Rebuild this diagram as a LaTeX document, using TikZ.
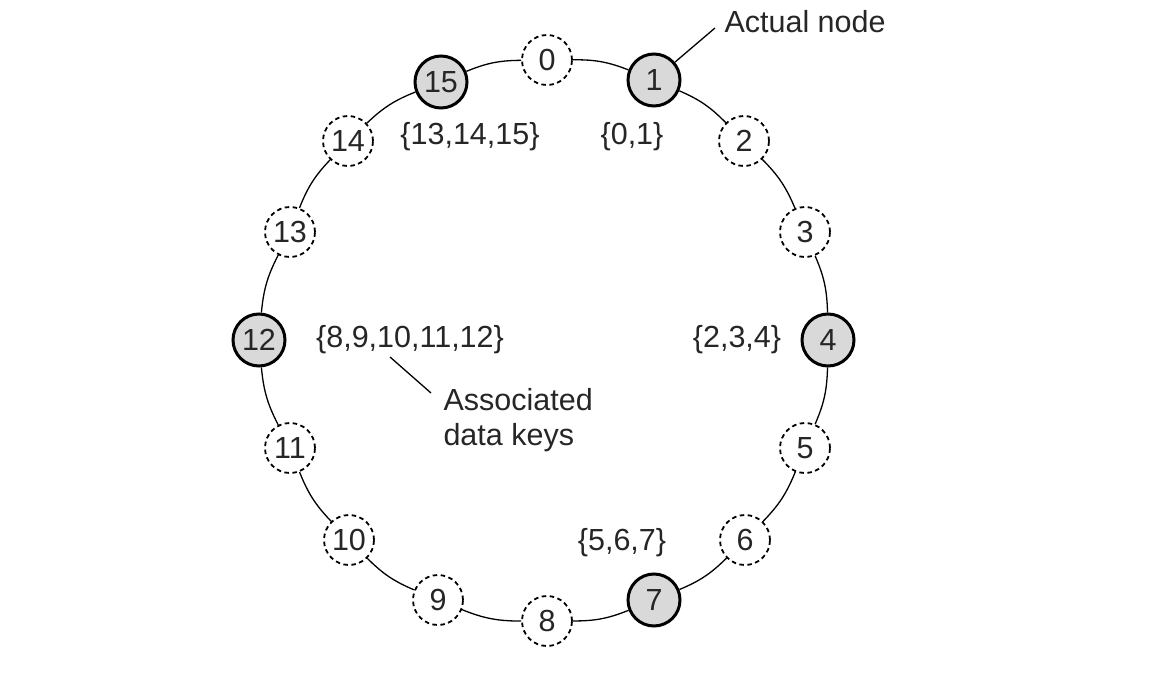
\documentclass[tikz,border=0pt]{standalone}
\usepackage{fontspec}
\setmainfont{Liberation Sans}
\begin{document}
\begin{tikzpicture}[x=1pt,y=-1pt,
  every node/.style={font=\fontsize{30.5}{35}\selectfont, text=black!85},
  virt/.style={circle, draw=black, line width=1.8pt, dash pattern=on 4.5pt off 3.5pt, fill=white, minimum size=50pt, inner sep=0pt},
  real/.style={circle, draw=black, line width=3pt, fill=black!15, minimum size=52pt, inner sep=0pt},
  ring/.style={line width=1.3pt, bend left=11},
  lead/.style={line width=1.3pt},
  keys/.style={anchor=center}]
\useasboundingbox (0,0) rectangle (1152,682);
\node[virt] (n0) at (547,60) {0};
\node[real] (n1) at (654,80) {1};
\node[virt] (n2) at (744,141) {2};
\node[virt] (n3) at (805,232) {3};
\node[real] (n4) at (828,340) {4};
\node[virt] (n5) at (805,448) {5};
\node[virt] (n6) at (745,540) {6};
\node[real] (n7) at (654,600) {7};
\node[virt] (n8) at (547,621) {8};
\node[virt] (n9) at (438,600) {9};
\node[virt] (n10) at (349,540) {10};
\node[virt] (n11) at (290,448) {11};
\node[real] (n12) at (259,340) {12};
\node[virt] (n13) at (290,232) {13};
\node[virt] (n14) at (348,141) {14};
\node[real] (n15) at (441,82) {15};
\foreach \a/\b in {0/1,1/2,2/3,3/4,4/5,5/6,6/7,7/8,8/9,9/10,10/11,11/12,12/13,13/14,14/15,15/0}
  \draw[ring] (n\a) to (n\b);
\node[keys] (k15) at (470,137) {\{13,14,15\}};
\node[keys] (k1) at (632,137) {\{0,1\}};
\node[keys] (k4) at (737,340) {\{2,3,4\}};
\node[keys] (k12) at (410,340) {\{8,9,10,11,12\}};
\node[keys] (k7) at (622,543) {\{5,6,7\}};
\node[anchor=west] (lab1) at (721,22) {Actual node};
\node[anchor=west, align=left] (lab2) at (440,420) {Associated\\data keys};
\coordinate (l1a) at (673,58);
\coordinate (l1b) at (715,28);
\draw[lead] (n1) -- (l1b);
\coordinate (l2a) at (390,357);
\coordinate (l2b) at (431,393);
\draw[lead] (l2a) -- (l2b);
\end{tikzpicture}
\end{document}
